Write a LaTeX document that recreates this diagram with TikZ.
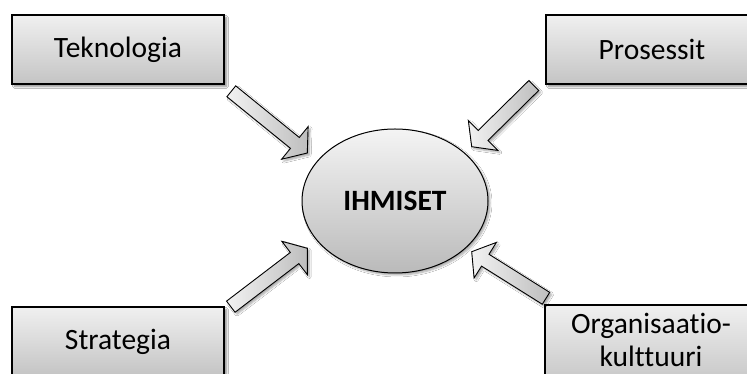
\documentclass[tikz,border=0pt]{standalone}
\usepackage{fontspec}
\setmainfont[Ligatures=NoCommon]{Carlito}
\usetikzlibrary{calc,shapes.geometric,shadows.blur}

\definecolor{boxtop}{HTML}{F0F0F0}
\definecolor{boxbot}{HTML}{C4C4C4}
\definecolor{elltop}{HTML}{F4F4F4}
\definecolor{ellbot}{HTML}{BABABA}
\definecolor{arrlight}{HTML}{F2F2F2}
\definecolor{arrdark}{HTML}{BEBEBE}

\tikzset{
  factor/.style={draw=black, line width=1.3pt, top color=boxtop, bottom color=boxbot,
    minimum width=212pt, minimum height=69pt, inner sep=0pt, align=center,
    font=\fontsize{29.5}{33.3}\selectfont,
    blur shadow={shadow xshift=2.5pt, shadow yshift=-2.5pt, shadow blur steps=6, shadow opacity=45}},
  core/.style={ellipse, draw=black, line width=1pt, top color=elltop, bottom color=ellbot,
    minimum width=186pt, minimum height=144pt, inner sep=0pt,
    font=\fontsize{29.5}{33}\selectfont\bfseries,
    blur shadow={shadow xshift=2pt, shadow yshift=-2pt, shadow blur steps=6, shadow opacity=35}},
  blockarr/.style={draw=black, line width=0.9pt, line join=miter,
    left color=arrlight, right color=arrdark,
    blur shadow={shadow xshift=2pt, shadow yshift=-2pt, shadow blur steps=5, shadow opacity=35}},
}

% block arrow from a tail coordinate to a tip coordinate
\newcommand\blockarrow[2]{%
  \path[blockarr] let \p1=(#1), \p2=(#2), \n1={atan2(\y2-\y1,\x2-\x1)} in
    ($(\p1)+({\n1+90}:7pt)$)
    -- ($(\p2)+({\n1+180}:16pt)+({\n1+90}:7pt)$)
    -- ($(\p2)+({\n1+180}:16pt)+({\n1+90}:21pt)$)
    -- (\p2)
    -- ($(\p2)+({\n1+180}:16pt)+({\n1-90}:21pt)$)
    -- ($(\p2)+({\n1+180}:16pt)+({\n1-90}:7pt)$)
    -- ($(\p1)+({\n1-90}:7pt)$)
    -- cycle;}

\begin{document}
\begin{tikzpicture}[x=1pt,y=1pt]
  \useasboundingbox (0,0) rectangle (747,374);
  \clip (0,0) rectangle (747,374);
  \fill[white] (0,0) rectangle (747,374);

  % surrounding factors
  \node[factor] (tek) at (118,324.5) {Teknologia};
  \node[factor] (pro) at (652,324.5) {Prosessit};
  \node[factor] (str) at (118,32.5) {Strategia};
  \node[factor, minimum height=83pt] (org) at (651,27.5) {};
  \node[font=\fontsize{29.5}{33.3}\selectfont, align=center, inner sep=0pt]
    (orgtext) at (651,34) {Organisaatio-\\kulttuuri};

  % centre
  \node[core] (ihm) at (395,173) {IHMISET};

  % arrow ends
  \coordinate (t1) at (231.3,282.7); \coordinate (h1) at (307.3,221);
  \coordinate (t2) at (533.8,288.5); \coordinate (h2) at (471.7,227.3);
  \coordinate (t3) at (230.8,67.3);  \coordinate (h3) at (307.3,125.7);
  \coordinate (t4) at (546,75.7);    \coordinate (h4) at (471.7,122.3);

  \blockarrow{t1}{h1}
  \blockarrow{t2}{h2}
  \blockarrow{t3}{h3}
  \blockarrow{t4}{h4}
\end{tikzpicture}
\end{document}
